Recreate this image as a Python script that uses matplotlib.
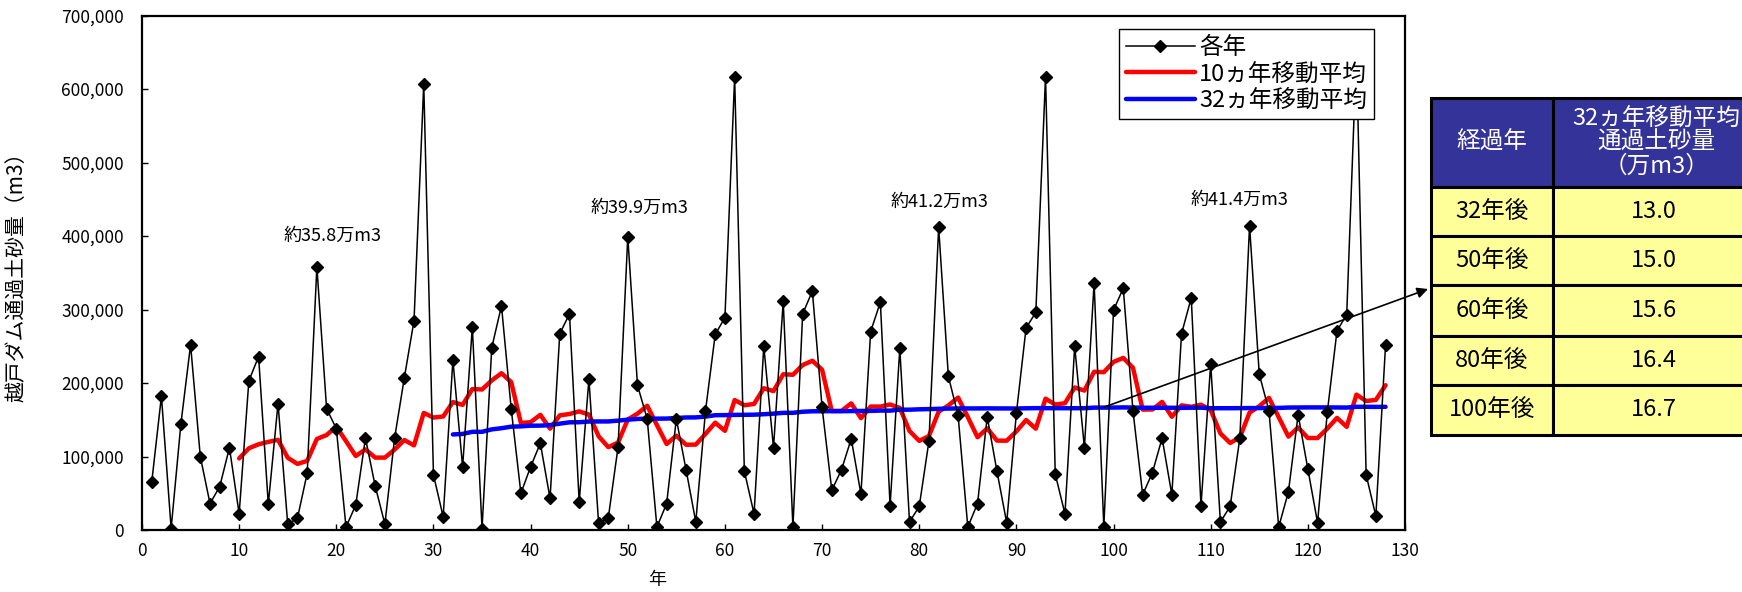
import matplotlib
matplotlib.use('Agg')
import matplotlib.pyplot as plt
from matplotlib.patches import Rectangle
from matplotlib.ticker import FuncFormatter, MultipleLocator

plt.rcParams['font.family'] = ['Noto Sans CJK JP', 'DejaVu Sans']

# Data (m3)

years = list(range(1, 129))
annual = [
    65000, 182000, 2000, 144000, 252000, 100000, 36000, 59000, 112000, 22000,
    203000, 236000, 35000, 172000, 8000, 16000, 77000, 358000, 165000, 138000,
    4000, 34000, 125000, 60000, 8000, 125000, 207000, 285000, 607000, 75000,
    18000, 231000, 86000, 276000, 2000, 248000, 305000, 165000, 50000, 86000,
    118000, 43000, 267000, 294000, 38000, 205000, 9000, 17000, 113000, 399000,
    197000, 151000, 4000, 36000, 151000, 82000, 11000, 162000, 266000, 289000,
    616000, 80000, 22000, 250000, 112000, 311000, 4000, 294000, 325000, 167000,
    54000, 82000, 124000, 49000, 270000, 310000, 33000, 247000, 11000, 32000,
    121000, 412000, 209000, 156000, 4000, 36000, 154000, 80000, 10000, 159000,
    275000, 296000, 617000, 76000, 22000, 250000, 112000, 336000, 4000, 299000,
    329000, 162000, 48000, 78000, 125000, 48000, 267000, 316000, 33000, 226000,
    11000, 32000, 125000, 414000, 212000, 162000, 4000, 52000, 157000, 83000,
    10000, 160000, 271000, 293000, 650000, 75000, 19000, 252000,
]

ma10_years = list(range(10, 129))
ma10 = [
    97400, 111200, 116600, 119900, 122700, 98300, 89900, 94000, 123900, 129200,
    140800, 120900, 100700, 109700, 98500, 98500, 109400, 122400, 115100, 159300,
    153000, 154400, 174100, 170200, 191800, 191200, 203500, 213300, 201300, 145600,
    146700, 156700, 137900, 156000, 157800, 161400, 157100, 127500, 112700, 119000,
    150400, 158300, 169100, 142800, 117000, 128300, 116000, 116200, 130700, 146000,
    134900, 176800, 169700, 171500, 192900, 189000, 211900, 211200, 224400, 230300,
    218100, 161900, 162100, 172300, 152200, 168000, 167900, 170800, 166100, 134700,
    121200, 127900, 161000, 169500, 180200, 153600, 126200, 138300, 121600, 121500,
    134200, 149600, 137900, 178700, 170700, 172500, 193900, 189700, 215300, 214700,
    228700, 234100, 220700, 163800, 164000, 174300, 154100, 169600, 167600, 170500,
    163200, 131400, 118400, 126100, 159700, 168400, 179800, 153500, 127100, 139500,
    125200, 125100, 137900, 152500, 140400, 184200, 175500, 177000, 197000,
]

ma32_years = list(range(32, 129))
ma32 = [
    130000, 130700, 133600, 133600, 136900, 138500, 140600, 141000, 141900, 142000,
    142700, 144700, 146500, 146600, 147600, 147700, 147700, 148800, 150100, 151100,
    151500, 151500, 151600, 152400, 153100, 153200, 154300, 156200, 156300, 156600,
    156700, 156900, 157500, 158300, 159400, 159400, 160900, 161500, 161600, 161700,
    161600, 161800, 162000, 162000, 162500, 162400, 163700, 163700, 164200, 164500,
    164900, 165200, 165400, 165400, 165400, 165500, 165400, 165400, 165300, 165600,
    165800, 165800, 165700, 165700, 165700, 165700, 166500, 166500, 166600, 166800,
    166600, 166400, 166300, 166300, 166300, 166200, 166400, 166400, 165700, 165700,
    165700, 165800, 165900, 165900, 166100, 166100, 166600, 166700, 166800, 166800,
    166800, 166700, 166600, 167600, 167600, 167500, 167600,
]

series_labels = ['各年', '10ヵ年移動平均', '32ヵ年移動平均']

peak_notes = ['約35.8万m3', '約39.9万m3', '約41.2万m3', '約41.4万m3']
peak_note_pos = [(19.6, 400000), (51.2, 438000), (82.1, 447000), (113.0, 449000)]

table_head = ['経過年', '32ヵ年移動平均\n通過土砂量\n（万m3）']
table_rows = ['32年後', '50年後', '60年後', '80年後', '100年後']
table_vals = ['13.0', '15.0', '15.6', '16.4', '16.7']

# Figure

W, H = 1742, 592
fig = plt.figure(figsize=(W / 100, H / 100), dpi=100)
ax = fig.add_axes([142 / W, 1 - 530 / H, (1405 - 142) / W, (530 - 15.5) / H])

ax.plot(ma10_years, ma10, '-', color='#ff0000', lw=3.2, zorder=2,
        solid_capstyle='round', label=series_labels[1])
ax.plot(ma32_years, ma32, '-', color='#0000ff', lw=3.2, zorder=2,
        solid_capstyle='round', label=series_labels[2])
ax.plot(years, annual, '-', color='black', lw=1.1, marker='D', markersize=6,
        zorder=3, label=series_labels[0])

ax.set_xlim(0, 130)
ax.set_ylim(0, 700000)
ax.xaxis.set_major_locator(MultipleLocator(10))
ax.yaxis.set_major_locator(MultipleLocator(100000))
ax.yaxis.set_major_formatter(FuncFormatter(lambda v, p: f'{int(v):,}'))
ax.tick_params(direction='in', length=4, width=1, labelsize=12.5, colors='black')
ax.tick_params(axis='y', pad=13)
ax.tick_params(axis='x', pad=9)
for s in ax.spines.values():
    s.set_linewidth(1.6)
    s.set_color('black')

for txt, (x, y) in zip(peak_notes, peak_note_pos):
    ax.text(x, y, txt, ha='center', va='center', fontsize=13)

fig.text(17 / W, 1 - 272 / H, '越戸ダム通過土砂量（m3）', rotation=90,
         ha='center', va='center', fontsize=15)
fig.text(657 / W, 1 - 580 / H, '年', ha='center', va='center', fontsize=13)

handles, labels = ax.get_legend_handles_labels()
order = [2, 0, 1]
leg = ax.legend([handles[i] for i in order], [labels[i] for i in order],
                loc='upper left', bbox_to_anchor=(1119 / W, 1 - 29 / H),
                bbox_transform=fig.transFigure, fontsize=17, fancybox=False,
                framealpha=1, edgecolor='black', handlelength=2.9,
                handletextpad=0.2, labelspacing=0.15, borderpad=0.3,
                borderaxespad=0)
leg.get_frame().set_linewidth(1.0)

# arrow from the 32-year line to the table
ax.annotate('', xy=(1428 / W, 1 - 289 / H), xycoords='figure fraction',
            xytext=(99, 167000), textcoords='data', annotation_clip=False,
            arrowprops=dict(arrowstyle='-|>', color='black', lw=1.2,
                            mutation_scale=16, shrinkA=0, shrinkB=0))

# table on the right
col_x = [1431, 1553, 1760]
row_y = [98, 187, 236, 285, 336, 385, 435]


def cell(x0, x1, y0, y1, color):
    fig.add_artist(Rectangle((x0 / W, 1 - y1 / H), (x1 - x0) / W, (y1 - y0) / H,
                             transform=fig.transFigure, facecolor=color,
                             edgecolor='black', linewidth=2.2))


for c in range(2):
    cell(col_x[c], col_x[c + 1], row_y[0], row_y[1], '#333399')
    fig.text((col_x[c] + col_x[c + 1]) / 2 / W, 1 - (row_y[0] + row_y[1]) / 2 / H,
             table_head[c], color='white', ha='center', va='center',
             fontsize=17, linespacing=1.05)
for r, (lab, val) in enumerate(zip(table_rows, table_vals)):
    y0, y1 = row_y[r + 1], row_y[r + 2]
    cell(col_x[0], col_x[1], y0, y1, '#ffff99')
    cell(col_x[1], col_x[2], y0, y1, '#ffff99')
    yc = 1 - (y0 + y1) / 2 / H
    fig.text((col_x[0] + col_x[1]) / 2 / W, yc, lab, ha='center', va='center', fontsize=17)
    fig.text(1654 / W, yc, val, ha='center', va='center', fontsize=17)

fig.savefig('out.png', dpi=100)
